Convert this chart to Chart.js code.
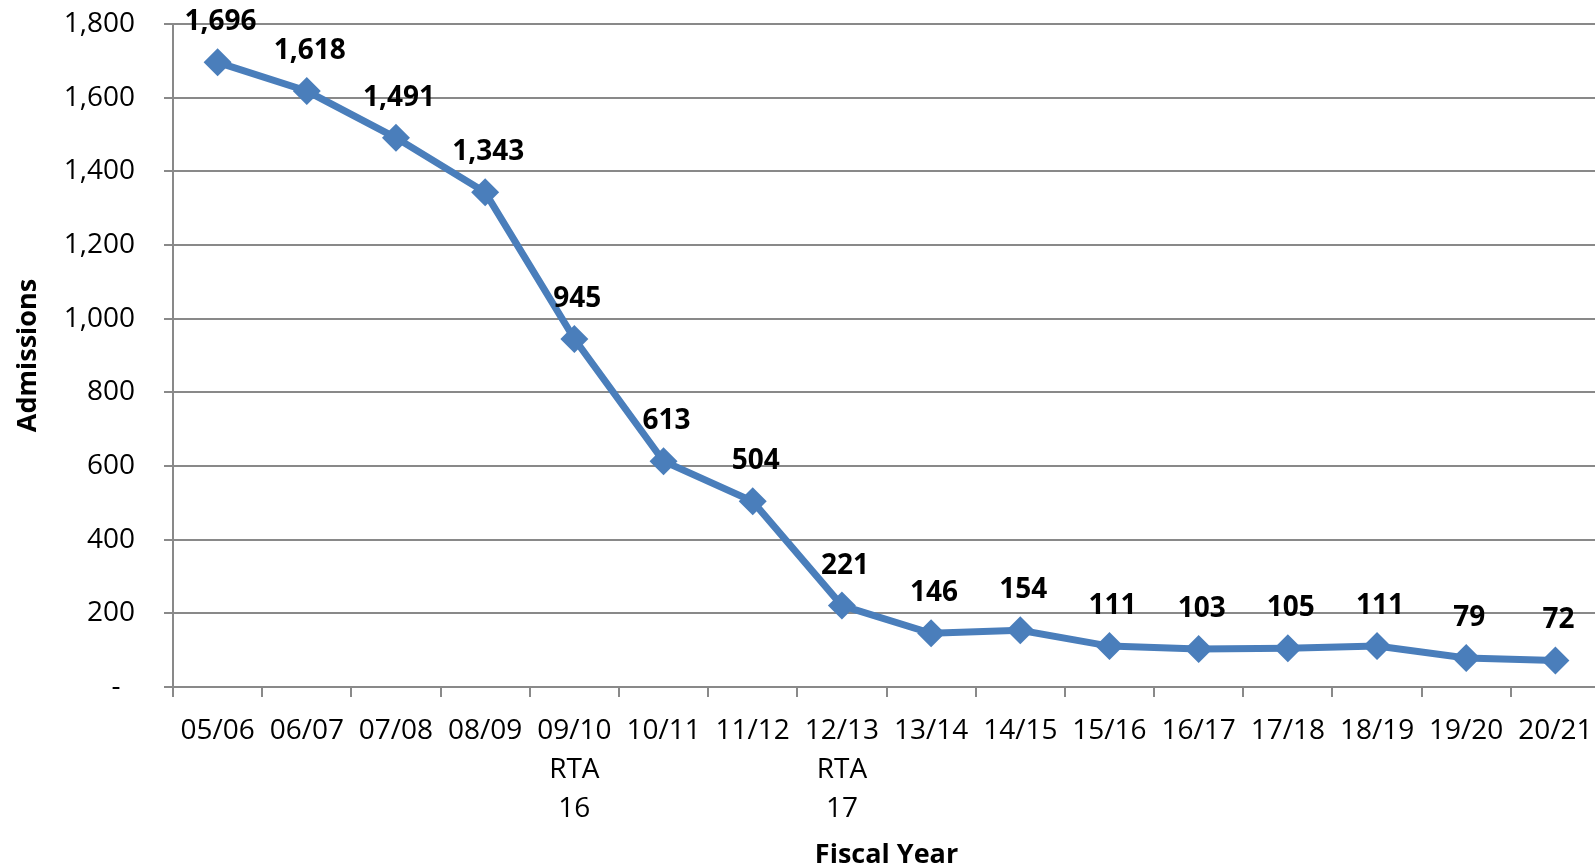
<!DOCTYPE html>
<html>
<head>
<meta charset="utf-8">
<script src="https://cdn.jsdelivr.net/npm/chart.js@4/dist/chart.umd.min.js"></script>
<style>
html,body{margin:0;padding:0;overflow:hidden;background:#fff;}
#wrap{width:1614px;height:868px;}
</style>
</head>
<body>
<div id="wrap"><canvas id="c" width="1614" height="868"></canvas></div>
<script>
const categories = [
  "05/06","06/07","07/08","08/09",["09/10","RTA","16"],"10/11","11/12",["12/13","RTA","17"],
  "13/14","14/15","15/16","16/17","17/18","18/19","19/20","20/21"
];
const admissions = [1696,1618,1491,1343,945,613,504,221,146,154,111,103,105,111,79,72];
const yTicks = [0,200,400,600,800,1000,1200,1400,1600,1800];

const FONT = "'Open Sans', sans-serif";
const GRID = '#898989';
const BLUE = '#4A7EBB';

const labelPlugin = {
  id: 'valueLabels',
  afterDatasetsDraw(chart) {
    const ctx = chart.ctx;
    const meta = chart.getDatasetMeta(0);
    ctx.save();
    ctx.font = "bold 28px " + FONT;
    ctx.fillStyle = '#000';
    ctx.textAlign = 'center';
    ctx.textBaseline = 'middle';
    meta.data.forEach((pt, i) => {
      ctx.fillText(admissions[i].toLocaleString('en-US'), pt.x + 3, pt.y - 40);
    });
    ctx.restore();
  }
};

new Chart(document.getElementById('c'), {
  type: 'line',
  data: {
    labels: categories,
    datasets: [{
      data: admissions,
      borderColor: BLUE,
      backgroundColor: BLUE,
      borderWidth: 7,
      pointStyle: 'rectRot',
      pointRadius: 14,
      pointBorderWidth: 0,
      pointBackgroundColor: BLUE,
      tension: 0,
      clip: false
    }]
  },
  options: {
    responsive: false,
    animation: false,
    devicePixelRatio: 1,
    layout: { padding: { top: 24, right: 6, left: 0, bottom: 0 } },
    plugins: { legend: { display: false }, tooltip: { enabled: false } },
    scales: {
      x: {
        offset: true,
        grid: { display: true, drawOnChartArea: false, offset: true, color: GRID, lineWidth: 2, tickLength: 10 },
        border: { color: GRID, width: 2 },
        ticks: { color: '#000', font: { family: FONT, size: 28, lineHeight: 1.39 }, padding: 15, maxRotation: 0, autoSkip: false },
        title: { display: true, text: 'Fiscal Year', color: '#000', font: { family: FONT, size: 27, weight: 'bold' }, padding: { top: 0, bottom: -4 } },
        afterFit(scale) { scale.height = 868 - 687; }
      },
      y: {
        min: 0, max: 1800,
        afterBuildTicks(scale) { scale.ticks = yTicks.map(v => ({ value: v })); },
        grid: { color: GRID, lineWidth: 2, tickLength: 9 },
        border: { color: GRID, width: 2 },
        ticks: {
          color: '#000', font: { family: FONT, size: 28 }, padding: 29,
          callback: v => v === 0 ? '-  ' : v.toLocaleString('en-US')
        },
        title: { display: true, text: 'Admissions', color: '#000', font: { family: FONT, size: 27, weight: 'bold' }, padding: { top: 12, bottom: 0 } },
        afterFit(scale) { scale.width = 173; scale.paddingTop = 0; scale.paddingBottom = 0; }
      }
    }
  },
  plugins: [labelPlugin]
});
</script>
</body>
</html>
